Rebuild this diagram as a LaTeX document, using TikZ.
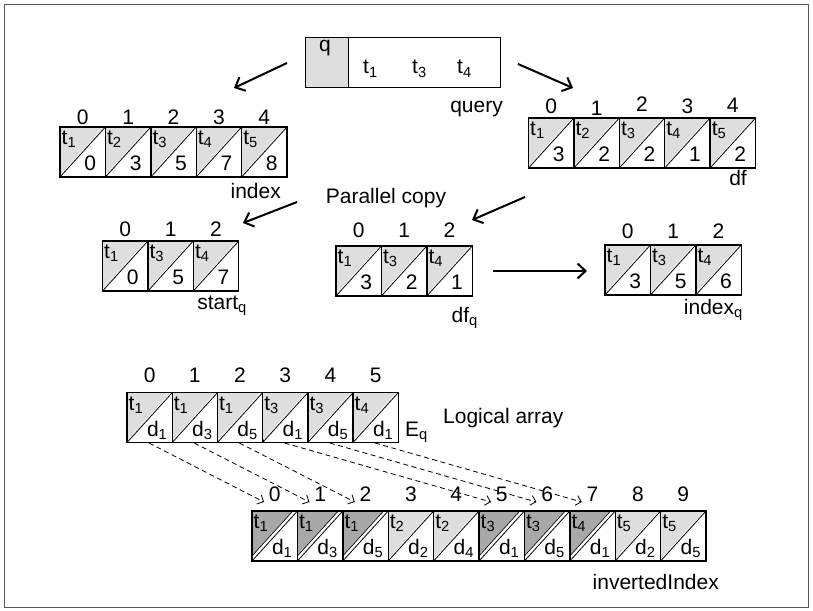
\documentclass[tikz,border=0pt]{standalone}
\usepackage{fontspec}
\setmainfont{Liberation Sans}
\usetikzlibrary{arrows.meta}

\definecolor{lightcell}{gray}{0.87}
\definecolor{darkcell}{gray}{0.66}
\newcommand{\tn}[1]{t\textsubscript{#1}}
\newcommand{\dn}[1]{d\textsubscript{#1}}

\tikzset{
  every node/.style={font=\fontsize{21}{25}\selectfont, inner sep=0pt},
  light/.style={fill=lightcell, scale=0.96},
  dark/.style={fill=darkcell, draw=black, line width=0.6pt, scale=0.9},
  pics/cell/.style n args={3}{code={
    \path[#3] (0,50) -- (0,0) -- (45.4,0) -- cycle;
    \draw[line width=0.8pt] (0,50) -- (45.4,0);
    \draw[line width=1.4pt] (0,0) rectangle (45.4,50);
    \node[anchor=base west] (-top) at (1.5,17.5) {#1};
    \node[anchor=base] (-bot) at (30.2,43.5) {#2};
  }},
  arr/.style={line width=2pt, -{Straight Barb[length=8pt,width=15pt]}},
  link/.style={line width=0.8pt, dash pattern=on 5pt off 3.5pt, -{Straight Barb[length=5pt,width=10pt]}}
}

\begin{document}
\begin{tikzpicture}[x=1pt, y=-1pt]
\fill[white] (0,0) rectangle (813,610);
\useasboundingbox (0,0) rectangle (813,610);
\draw[black!65, line width=1.5pt] (4.5,4.5) rectangle (808.5,607.5);

% Query
\node[draw, line width=1.4pt, minimum width=195pt, minimum height=50pt, anchor=north west] (query) at (305,37) {};
\node[draw, line width=1.4pt, fill=lightcell, minimum width=43pt, minimum height=50pt, anchor=north west] (qcell) at (305,37) {};
\node[anchor=base] (qname) at (325,52) {q};
\node[anchor=base west] (qt1) at (363,74) {\tn{1}};
\node[anchor=base west] (qt3) at (412,74) {\tn{3}};
\node[anchor=base west] (qt4) at (457,74) {\tn{4}};
\node[anchor=base east] (querylab) at (503,112) {query};

% index and df
\foreach \t/\v [count=\i from 0] in {1/0,2/3,3/5,4/7,5/8} {
  \pic (idx\i) at ({60+45.4*\i},127) {cell={\tn{\t}}{\v}{light}};
  \node[anchor=base] (idxn\i) at ({82.7+45.4*\i},124) {\i};
}
\node[anchor=base east] (idxlab) at (281,198) {index};
\foreach \t/\v/\y [count=\i from 0] in {1/3/113,2/2/115,3/2/111,4/1/113,5/2/112} {
  \pic (df\i) at ({528.5+45.4*\i},118) {cell={\tn{\t}}{\v}{light}};
  \node[anchor=base] (dfn\i) at ({551.2+45.4*\i},\y) {\i};
}
\node[anchor=base east] (dflab) at (747,185) {df};

\node[anchor=base] (pcopy) at (386,203) {Parallel copy};

% Per-query arrays
\foreach \t/\v [count=\i from 0] in {1/0,3/5,4/7} {
  \pic (st\i) at ({102.5+45.4*\i},241) {cell={\tn{\t}}{\v}{light}};
  \node[anchor=base] (stn\i) at ({125.2+45.4*\i},236.5) {\i};
}
\node[anchor=base east] (stlab) at (247,309) {start\textsubscript{q}};
\foreach \t/\v [count=\i from 0] in {1/3,3/2,4/1} {
  \pic (dq\i) at ({336+45.4*\i},246) {cell={\tn{\t}}{\v}{light}};
  \node[anchor=base] (dqn\i) at ({358.7+45.4*\i},237.5) {\i};
}
\node[anchor=base east] (dqlab) at (478,322) {df\textsubscript{q}};
\foreach \t/\v [count=\i from 0] in {1/3,3/5,4/6} {
  \pic (iq\i) at ({605+45.4*\i},245) {cell={\tn{\t}}{\v}{light}};
  \node[anchor=base] (iqn\i) at ({627.7+45.4*\i},238.5) {\i};
}
\node[anchor=base east] (iqlab) at (743,314) {index\textsubscript{q}};

% Logical array E_q
\foreach \t/\d [count=\i from 0] in {1/1,1/3,1/5,3/1,3/5,4/1} {
  \pic (eq\i) at ({127+45.2*\i},392.5) {cell={\tn{\t}}{\dn{\d}}{light}};
  \node[anchor=base] (eqn\i) at ({149.6+45.2*\i},382.5) {\i};
  \coordinate (eq-\i) at ({149+45.2*\i},443);
}
\node[anchor=base west] (eqlab) at (405,436) {E\textsubscript{q}};
\node[anchor=base west] (logical) at (443,423) {Logical array};

% invertedIndex
\foreach \t/\d/\s [count=\i from 0] in {1/1/dark,1/3/dark,1/5/dark,2/2/light,2/4/light,3/1/dark,3/5/dark,4/1/dark,5/2/light,5/5/light} {
  \pic (ii\i) at ({252+45.4*\i},511) {cell={\tn{\t}}{\dn{\d}}{\s}};
  \node[anchor=base] (iin\i) at ({274.7+45.4*\i},501.5) {\i};
  \coordinate (ii-\i) at ({264+45.4*\i},502);
}
\node[anchor=base east] (iilab) at (719,589) {invertedIndex};

% Arrows
\coordinate (a1) at (287,63);  \coordinate (b1) at (234,88);
\coordinate (a2) at (518,64);  \coordinate (b2) at (573,88);
\coordinate (a3) at (297,202); \coordinate (b3) at (243,223);
\coordinate (a4) at (525,197); \coordinate (b4) at (472,220);
\coordinate (a5) at (493,271); \coordinate (b5) at (587,271);
\draw[arr] (a1) -- (b1);
\draw[arr] (a2) -- (b2);
\draw[arr] (a3) -- (b3);
\draw[arr] (a4) -- (b4);
\draw[arr] (a5) -- (b5);

% Copy E_q entries into invertedIndex
\foreach \a/\b in {0/0,1/1,2/2,3/5,4/6,5/7}
  \draw[link] (eq-\a) -- (ii-\b);

\end{tikzpicture}
\end{document}
